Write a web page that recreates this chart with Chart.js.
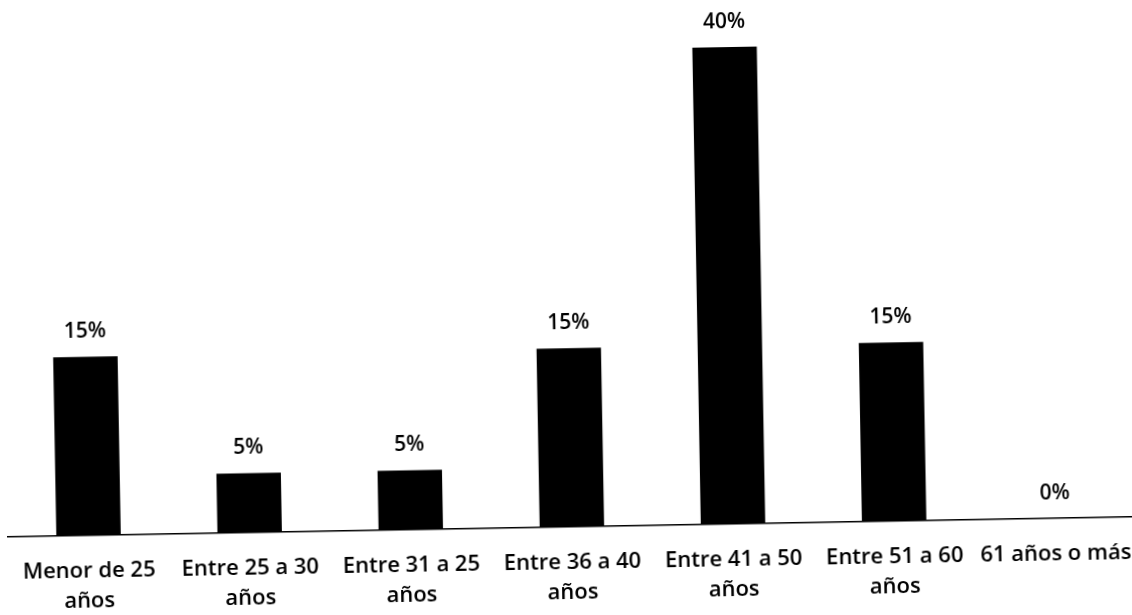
<!DOCTYPE html>
<html>
<head>
<meta charset="utf-8">
<script src="https://cdn.jsdelivr.net/npm/chart.js@4/dist/chart.umd.min.js"></script>
<style>
  html, body { margin: 0; padding: 0; background: #fff; overflow: hidden; }
  #wrap { width: 1132px; height: 615px; transform: rotate(-1.02deg); transform-origin: 566px 307px; }
  canvas { display: block; }
</style>
</head>
<body>
<div id="wrap"><canvas id="c" width="1132" height="615"></canvas></div>
<script>
// Age groups (rango de edad) and share of respondents in each, in percent
const categories = [
  ['Menor de 25', 'años'],
  ['Entre 25 a 30', 'años'],
  ['Entre 31 a 25', 'años'],
  ['Entre 36 a 40', 'años'],
  ['Entre 41 a 50', 'años'],
  ['Entre 51 a 60', 'años'],
  '61 años o más'
];
const percentages = [15, 5, 5, 15, 40, 15, 0];
const valueLabels = ['15%', '5%', '5%', '15%', '40%', '15%', '0%'];

const FONT = '"Open Sans", "Noto Sans", "DejaVu Sans", sans-serif';

// Writes the percentage above each bar
const valueLabelPlugin = {
  id: 'valueLabels',
  afterDatasetsDraw(chart) {
    const ctx = chart.ctx;
    const meta = chart.getDatasetMeta(0);
    ctx.save();
    ctx.fillStyle = '#000';
    ctx.font = '600 21px ' + FONT;
    ctx.textAlign = 'center';
    ctx.textBaseline = 'alphabetic';
    meta.data.forEach((bar, i) => {
      ctx.fillText(valueLabels[i], bar.x, bar.y - 19);
    });
    ctx.restore();
  }
};

new Chart(document.getElementById('c'), {
  type: 'bar',
  data: {
    labels: categories,
    datasets: [{
      data: percentages,
      backgroundColor: '#000',
      borderWidth: 0,
      categoryPercentage: 1.0,
      barPercentage: 0.4
    }]
  },
  options: {
    responsive: false,
    animation: false,
    layout: { padding: { top: 50, left: 4, right: 0, bottom: 0 } },
    plugins: { legend: { display: false }, tooltip: { enabled: false } },
    scales: {
      x: {
        grid: { display: false, drawTicks: false },
        border: { display: true, color: '#000', width: 1.5 },
        ticks: {
          color: '#000',
          padding: 21,
          maxRotation: 0,
          autoSkip: false,
          font: { family: FONT, size: 22, weight: '600', lineHeight: '30px' }
        },
        afterFit(scale) {
          // fixed label band; the outer labels may run into the page margin
          scale.height = 88;
          scale.paddingLeft = 0;
          scale.paddingRight = 0;
        }
      },
      y: {
        display: false,
        min: 0,
        max: 40
      }
    }
  },
  plugins: [valueLabelPlugin]
});
</script>
</body>
</html>
